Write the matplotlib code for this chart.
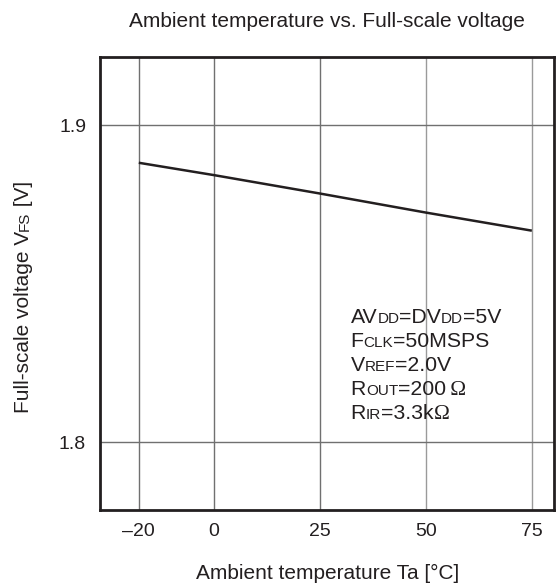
import numpy as np
import matplotlib
matplotlib.use("Agg")
import matplotlib.pyplot as plt

# values
temps = [-20, 0, 25, 50, 75]
vfs = [1.8881, 1.8842, 1.8784, 1.8724, 1.8667]
xtick_vals = [-20, 0, 25, 50, 75]
xtick_labels = ["\u201320", "0", "25", "50", "75"]
ytick_vals = [1.8, 1.9]
ytick_labels = ["1.8", "1.9"]

# condition lines: (text, small caps?) pieces
conditions = [
    [("AV", False), ("DD", True), ("=DV", False), ("DD", True), ("=5V", False)],
    [("F", False), ("CLK", True), ("=50MSPS", False)],
    [("V", False), ("REF", True), ("=2.0V", False)],
    [("R", False), ("OUT", True), ("=200", False), ("\u2009\u03A9", "serif")],
    [("R", False), ("IR", True), ("=3.3k", False), ("\u03A9", "serif")],
]

plt.rcParams["font.family"] = ["Liberation Sans", "DejaVu Sans"]

W, H = 558, 586
fig = plt.figure(figsize=(W / 100, H / 100), dpi=100)
ax = fig.add_axes([100 / W, 1 - 510 / H, 454.3 / W, 453.3 / H])

# the -20 step is drawn a bit narrower than the others in the original
k = 0.889


def fwd(x):
    x = np.asarray(x, dtype=float)
    return np.where(x < 0, x * k, x)


def inv(x):
    x = np.asarray(x, dtype=float)
    return np.where(x < 0, x / k, x)


ax.set_xscale("function", functions=(fwd, inv))
ax.plot(temps, vfs, color="#231f20", lw=1.8, solid_capstyle="butt", zorder=3)

ax.set_xlim(-30.3, 80.3)
ax.set_ylim(1.77866, 1.92153)
ax.set_xticks(xtick_vals, xtick_labels)
ax.set_yticks(ytick_vals, ytick_labels)
ax.minorticks_off()
ax.tick_params(length=0, labelsize=14, colors="#231f20")
ax.tick_params(axis="x", pad=9)
ax.tick_params(axis="y", pad=10)
ax.grid(True, color="#707070", lw=1.0)
for i, gl in enumerate(ax.get_xgridlines()):
    if i >= 3:
        gl.set_color("#9a9a9a")
for sp in ax.spines.values():
    sp.set_linewidth(2.0)
    sp.set_color("#231f20")

ax.set_xlabel("Ambient temperature Ta [°C]", fontsize=15, color="#231f20", va="baseline")
ax.xaxis.set_label_coords(0.5, -(579 - 510) / 453.3)

fig.text((100 + 554.3) / 2 / W, 1 - 26.7 / H, "Ambient temperature vs. Full-scale voltage",
         ha="center", va="baseline", fontsize=15, color="#231f20")

renderer = fig.canvas.get_renderer()


def draw_pieces(x0, y0, pieces, big=15.3, small=11):
    x = x0
    for s, sty in pieces:
        kw = dict(fontsize=small if sty is True else big, color="#231f20", va="baseline", ha="left")
        if sty == "serif":
            kw["family"] = ["Liberation Serif", "DejaVu Serif"]
        t = fig.text(x / W, 1 - y0 / H, s, **kw)
        x += t.get_window_extent(renderer).width


for i, line in enumerate(conditions):
    draw_pieces(350.7, 323.3 + 24 * i, line)

# rotated y label drawn in pieces (small caps subscript)
ylab = [("Full-scale voltage V", False), ("FS", True), (" [V]", False)]
y = 413.0
for s, sm in ylab:
    t = fig.text(29.0 / W, 1 - y / H, s, rotation=90, rotation_mode="anchor",
                 fontsize=11 if sm else 15, color="#231f20", va="baseline", ha="left")
    y -= t.get_window_extent(renderer).height

fig.savefig("out.png", dpi=100)
